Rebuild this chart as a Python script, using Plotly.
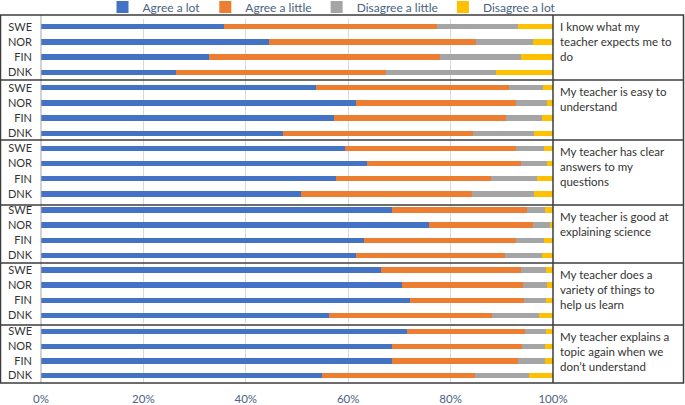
import plotly.graph_objects as go
from plotly.subplots import make_subplots

# ── Data ──────────────────────────────────────────────────────────────────────
countries = ["SWE", "NOR", "FIN", "DNK"]

statements = [
    "I know what my<br>teacher expects me to<br>do",
    "My teacher is easy to<br>understand",
    "My teacher has clear<br>answers to my<br>questions",
    "My teacher is good at<br>explaining science",
    "My teacher does a<br>variety of things to<br>help us learn",
    "My teacher explains a<br>topic again when we<br>don\u2019t understand",
]

# one row per statement, columns in the order of `countries`
agree_lot = [
    [35.8, 44.5, 32.9, 26.4],
    [53.7, 61.6, 57.3, 47.3],
    [59.3, 63.7, 57.6, 50.7],
    [68.5, 75.8, 63.0, 61.5],
    [66.4, 70.5, 72.1, 56.3],
    [71.4, 68.5, 68.6, 54.8],
]
agree_little = [
    [41.6, 40.5, 45.0, 40.9],
    [37.7, 31.2, 33.5, 37.0],
    [33.4, 30.0, 30.2, 33.4],
    [26.5, 20.3, 29.7, 29.1],
    [27.4, 23.7, 22.3, 31.7],
    [23.1, 25.4, 24.5, 30.0],
]
disagree_little = [
    [15.7, 11.1, 15.9, 21.5],
    [6.6, 6.0, 7.1, 12.0],
    [5.6, 5.1, 9.0, 12.1],
    [3.5, 3.3, 5.6, 7.2],
    [4.8, 4.7, 4.2, 9.2],
    [4.1, 4.6, 5.4, 10.5],
]
disagree_lot = [
    [6.9, 3.9, 6.2, 11.2],
    [2.0, 1.2, 2.1, 3.7],
    [1.7, 1.2, 3.2, 3.8],
    [1.5, 0.6, 1.7, 2.2],
    [1.4, 1.1, 1.4, 2.8],
    [1.4, 1.5, 1.5, 4.7],
]

x_ticks = [0, 20, 40, 60, 80, 100]
x_tick_labels = ["0%", "20%", "40%", "60%", "80%", "100%"]

SERIES = [
    ("Agree a lot", agree_lot, "#4472C4"),
    ("Agree a little", agree_little, "#ED7D31"),
    ("Disagree a little", disagree_little, "#A5A5A5"),
    ("Disagree a lot", disagree_lot, "#FFC000"),
]

# ── Layout geometry (pixels) ─────────────────────────────────────────────────
W, H = 685, 405
L, R, T, B = 41, 132, 15, 22
PW, PH = W - L - R, H - T - B
panel_edges = [15, 80, 140, 205, 263, 325, 383]
first_bar = [26.7, 87.7, 148.3, 210.0, 270.0, 331.7]
bar_step = 15.2

FRAME = "#3c3c3c"
TICK = "#4a6283"
FONT = "Lato, Carlito, Calibri, sans-serif"


def px_x(p):
    return (p - L) / PW


def px_y(p):
    return (H - B - p) / PH


fig = make_subplots(rows=6, cols=1, shared_xaxes=True, vertical_spacing=0)

for i in range(6):
    for name, vals, color in SERIES:
        fig.add_trace(go.Bar(
            y=countries,
            x=vals[i],
            orientation="h",
            name=name,
            legendgroup=name,
            showlegend=(i == 0),
            marker=dict(color=color, line=dict(width=0)),
            hovertemplate="%{y}: %{x:.1f}%<extra>" + name + "</extra>",
        ), row=i + 1, col=1)

    top = first_bar[i] - bar_step / 2
    bot = first_bar[i] + 3 * bar_step + bar_step / 2
    ysuf = "" if i == 0 else str(i + 1)
    fig.layout["yaxis" + ysuf].update(
        domain=[max(0, px_y(bot)), min(1, px_y(top))],
        categoryorder="array",
        categoryarray=countries,
        range=[3.5, -0.5],
        showgrid=False,
        zeroline=False,
        showline=False,
        ticks="",
        automargin=False,
        ticklabelstandoff=8,
        tickfont=dict(size=11, color="#333333", family=FONT),
        fixedrange=True,
    )
    fig.layout["xaxis" + ysuf].update(
        range=[0, 100],
        tickmode="array",
        tickvals=x_ticks,
        ticktext=x_tick_labels,
        showgrid=True,
        gridcolor="#d9d9d9",
        gridwidth=1,
        zeroline=False,
        showline=False,
        automargin=False,
        showticklabels=(i == 5),
        tickfont=dict(size=11.5, color=TICK, family=FONT),
        ticklabelstandoff=7,
    )

    # statement text in the right-hand box
    fig.add_annotation(
        x=px_x(558), y=px_y(panel_edges[i] + 3),
        xref="paper", yref="paper",
        xanchor="left", yanchor="top",
        align="left",
        text=statements[i],
        showarrow=False,
        font=dict(size=11.5, color="#333333", family=FONT),
    )

# ── Borders ───────────────────────────────────────────────────────────────────
shapes = []
x0, x1 = px_x(0.5), px_x(683.5)
# axis line at 0%
shapes.append(dict(type="line", xref="paper", yref="paper",
                   x0=0, x1=0, y0=0, y1=1,
                   line=dict(color="#a6a6a6", width=1)))
# panel separators
for e in panel_edges[1:-1]:
    shapes.append(dict(type="line", xref="paper", yref="paper",
                       x0=x0, x1=x1, y0=px_y(e), y1=px_y(e),
                       line=dict(color=FRAME, width=1.5)))
# box with statements
shapes.append(dict(type="line", xref="paper", yref="paper",
                   x0=px_x(553), x1=px_x(553), y0=0, y1=1,
                   line=dict(color=FRAME, width=1.5)))
# outer frame
shapes.append(dict(type="rect", xref="paper", yref="paper",
                   x0=x0, x1=x1, y0=0, y1=1,
                   line=dict(color=FRAME, width=1.5)))

fig.update_layout(
    barmode="stack",
    bargap=0.64,
    width=W,
    height=H,
    margin=dict(l=L, r=R, t=T, b=B, autoexpand=False),
    paper_bgcolor="white",
    plot_bgcolor="white",
    font=dict(family=FONT, color="#333333"),
    shapes=shapes,
    legend=dict(
        orientation="h",
        x=px_x(332), xanchor="center",
        y=px_y(7), yanchor="middle",
        font=dict(size=12, color=TICK, family=FONT),
        itemwidth=30,
        tracegroupgap=0,
        bgcolor="rgba(0,0,0,0)",
    ),
    showlegend=True,
)

# page body margin would otherwise push the figure off the 685x405 window
fig.write_html("out.html", config={"displayModeBar": False},
               post_script="document.body.style.margin='0px';")
